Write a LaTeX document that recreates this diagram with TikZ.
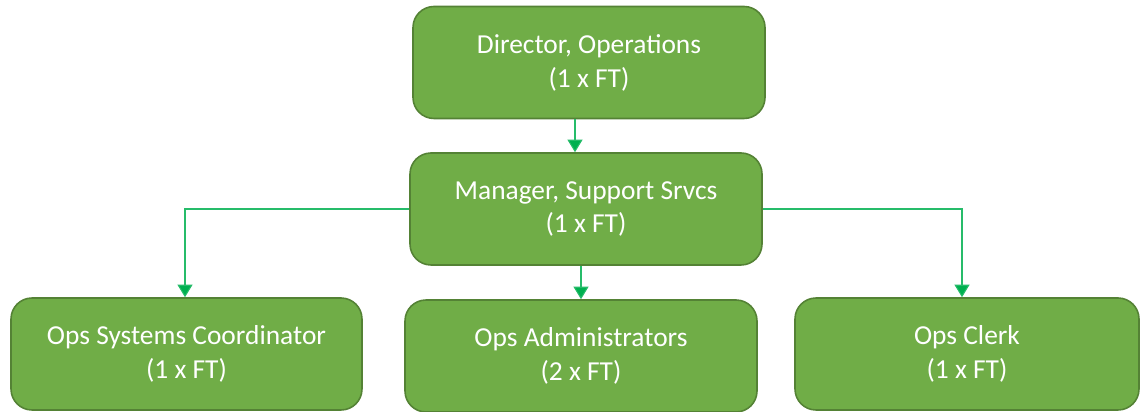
\documentclass[tikz,border=0pt]{standalone}
\usepackage{fontspec}
\setmainfont{Carlito}
\usetikzlibrary{arrows.meta}

\definecolor{boxfill}{HTML}{70AD47}
\definecolor{boxline}{HTML}{548235}
\definecolor{linkgreen}{HTML}{00B050}

\tikzset{
  rolebox/.style={draw=boxline, fill=boxfill, line width=0.9pt, rounded corners=0.42cm,
    minimum width=7.04cm, minimum height=2.24cm, align=center, text=white,
    font=\fontsize{15.6}{19.3}\selectfont},
  link/.style={draw=linkgreen!85, line width=0.6pt,
    -{Triangle[width=0.3cm,length=0.25cm,fill=linkgreen]}}
}

\begin{document}
\begin{tikzpicture}

  \useasboundingbox (0,0) rectangle (22.8,-8.24);

  % Niveau 1
  \node[rolebox] (dir) at (11.78,-1.25) {Director, Operations\\(1 x FT)};

  % Niveau 2
  \node[rolebox] (mgr) at (11.72,-4.18) {Manager, Support Srvcs\\(1 x FT)};

  % Niveau 3
  \node[rolebox, minimum width=7.02cm] (coord) at (3.73,-7.08) {Ops Systems Coordinator\\(1 x FT)};
  \node[rolebox] (adm) at (11.62,-7.12) {Ops Administrators\\(2 x FT)};
  \node[rolebox, minimum width=6.88cm] (clerk) at (19.34,-7.08) {Ops Clerk\\(1 x FT)};

  % Liaisons
  \coordinate (xtop) at (11.5,0);
  \coordinate (xleft) at (3.7,0);
  \coordinate (xright) at (19.24,0);
  \draw[link] (dir.south -| xtop) -- (mgr.north -| xtop);
  \draw[link] (mgr.west) -| (coord.north -| xleft);
  \draw[link] (mgr.east) -| (clerk.north -| xright);
  \draw[link] (mgr.south -| adm.north) -- (adm.north);

\end{tikzpicture}
\end{document}
